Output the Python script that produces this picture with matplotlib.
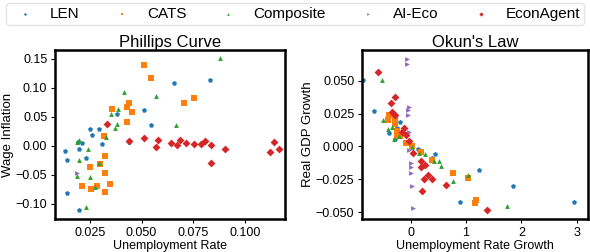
import matplotlib
matplotlib.use("Agg")
import matplotlib.pyplot as plt

plt.rcParams['font.family'] = ['Liberation Sans', 'DejaVu Sans']

# Phillips curve: (unemployment rate, wage inflation)
len_ph_x = [0.013, 0.014, 0.014, 0.0195, 0.0197, 0.0197, 0.021, 0.023, 0.0253, 0.026,
            0.0295, 0.031, 0.038, 0.044, 0.0513, 0.0547, 0.0658, 0.0828]
len_ph_y = [-0.009, -0.025, -0.082, 0.007, -0.006, -0.111, 0.005, -0.021, 0.030, 0.019,
            0.030, 0.003, 0.055, 0.007, 0.062, 0.036, 0.108, 0.114]
cats_ph_x = [0.0513, 0.0543, 0.0438, 0.0428, 0.0358, 0.0453, 0.0428, 0.0705, 0.0755, 0.0318,
             0.0323, 0.0253, 0.0297, 0.0323, 0.0213, 0.0283, 0.0258, 0.0348, 0.0323]
cats_ph_y = [0.140, 0.117, 0.074, 0.067, 0.063, 0.059, 0.041, 0.074, 0.083, 0.018,
             -0.017, -0.037, -0.031, -0.047, -0.069, -0.069, -0.074, -0.066, -0.080]
comp_ph_x = [0.0877, 0.0415, 0.0568, 0.0387, 0.035, 0.0335, 0.0382, 0.0373, 0.0665, 0.0197,
             0.019, 0.0243, 0.0197, 0.0295, 0.019, 0.0253, 0.0273, 0.023, 0.033]
comp_ph_y = [0.152, 0.093, 0.087, 0.064, 0.055, 0.040, 0.038, 0.031, 0.036, 0.011,
             0.006, -0.005, -0.025, -0.029, -0.051, -0.053, -0.071, -0.106, 0.016]
aieco_ph_x = [0.0187]
aieco_ph_y = [-0.047]
econ_ph_x = [0.0335, 0.044, 0.0512, 0.0577, 0.057, 0.0643, 0.0673, 0.0685, 0.0715, 0.0755,
             0.0787, 0.0805, 0.0837, 0.0837, 0.0902, 0.1122, 0.1137, 0.1163]
econ_ph_y = [0.037, 0.009, 0.013, 0.011, -0.001, 0.005, 0.001, 0.011, 0.005, 0.003,
             0.003, 0.008, 0.001, -0.029, -0.006, -0.010, 0.006, -0.006]

# Okun's law: (unemployment rate growth, real GDP growth)
len_ok_x = [-0.864, -0.651, -0.396, -0.195, -0.243, -0.272, 0.142, 0.39, 0.444, 1.237,
            0.888, 1.846, 2.94]
len_ok_y = [0.051, 0.027, 0.010, 0.019, 0.014, 0.0056, -0.0023, -0.0088, -0.006, -0.018,
            -0.042, -0.030, -0.042]
cats_ok_x = [-0.408, -0.385, -0.272, -0.272, -0.243, -0.237, -0.189, -0.083, 0.024, 0.195,
             0.385, 0.757, 1.041, 1.183, 1.166]
cats_ok_y = [0.020, 0.024, 0.022, 0.017, 0.012, 0.008, 0.0076, 0.0025, 0.0, -0.0043,
             -0.0106, -0.0205, -0.0237, -0.041, -0.043]
comp_ok_x = [-0.521, -0.491, -0.402, -0.343, -0.296, -0.207, 0.154, 0.266, 0.432, 0.509,
             0.55, 1.041, 0.763, 1.74, 0.024]
comp_ok_y = [0.051, 0.020, 0.013, 0.015, 0.0058, 0.008, -0.005, -0.006, -0.011, -0.011,
             -0.0146, -0.0215, -0.0265, -0.0455, -0.0005]
aieco_ok_x = [-0.071, -0.071, -0.036, -0.047, -0.041, -0.024, -0.030, 0.006, 0.0, 0.0,
              0.018, 0.053]
aieco_ok_y = [0.067, 0.063, 0.030, 0.028, 0.024, 0.011, -0.003, -0.0126, -0.016, -0.020,
              -0.030, -0.047]
econ_ok_x = [-0.586, -0.355, -0.272, -0.343, -0.284, -0.118, -0.154, -0.089, -0.036, 0.041,
             0.195, 0.195, 0.26, 0.308, 0.249, 0.396, 0.207, 0.639, 1.373]
econ_ok_y = [0.057, 0.033, 0.038, 0.026, 0.024, 0.014, 0.011, 0.009, 0.004, -0.005,
             -0.011, -0.016, -0.0144, -0.0217, -0.025, -0.025, -0.034, -0.0295, -0.0487]

labels = ["LEN", "CATS", "Composite", "AI-Eco", "EconAgent"]
colors = ["#1f77b4", "#ff7f0e", "#2ca02c", "#9467bd", "#d62728"]
markers = ["p", "s", "^", ">", "D"]
sizes = [14, 14, 12, 12, 16]

phillips = [(len_ph_x, len_ph_y), (cats_ph_x, cats_ph_y), (comp_ph_x, comp_ph_y),
            (aieco_ph_x, aieco_ph_y), (econ_ph_x, econ_ph_y)]
okun = [(len_ok_x, len_ok_y), (cats_ok_x, cats_ok_y), (comp_ok_x, comp_ok_y),
        (aieco_ok_x, aieco_ok_y), (econ_ok_x, econ_ok_y)]

fig = plt.figure(figsize=(5.9, 2.52), dpi=100)
ax1 = fig.add_axes([55 / 590, 1 - 219 / 252, 230 / 590, 169 / 252])
ax2 = fig.add_axes([362 / 590, 1 - 219 / 252, 226 / 590, 169 / 252])

handles = []
for (x, y), lab, c, m, s in zip(phillips, labels, colors, markers, sizes):
    h = ax1.scatter(x, y, s=s, c=c, marker=m, label=lab, linewidths=0)
    handles.append(h)
for (x, y), c, m, s in zip(okun, colors, markers, sizes):
    ax2.scatter(x, y, s=s, c=c, marker=m, linewidths=0)

ax1.set_xlim(0.0082, 0.1192)
ax1.set_ylim(-0.126, 0.1655)
ax1.set_xticks([0.025, 0.050, 0.075, 0.100])
ax1.set_xticklabels(["0.025", "0.050", "0.075", "0.100"])
ax1.set_yticks([-0.10, -0.05, 0.0, 0.05, 0.10, 0.15])
ax1.set_yticklabels(["\u22120.10", "\u22120.05", "0.00", "0.05", "0.10", "0.15"])
ax1.set_title("Phillips Curve", fontsize=12, pad=2)
ax1.set_xlabel("Unemployment Rate", fontsize=9, labelpad=1)
ax1.set_ylabel("Wage Inflation", fontsize=9.5, labelpad=1)

ax2.set_xlim(-0.875, 3.2)
ax2.set_ylim(-0.0553, 0.0735)
ax2.set_xticks([0, 1, 2, 3])
ax2.set_yticks([-0.050, -0.025, 0.0, 0.025, 0.050])
ax2.set_yticklabels(["\u22120.050", "\u22120.025", "0.000", "0.025", "0.050"])
ax2.set_title("Okun's Law", fontsize=12, pad=2)
ax2.set_xlabel("Unemployment Rate Growth", fontsize=9, labelpad=1)
ax2.set_ylabel("Real GDP Growth", fontsize=9.5, labelpad=1)

for ax in (ax1, ax2):
    ax.tick_params(labelsize=9, length=3, width=0.8, pad=2.5)
    for sp in ax.spines.values():
        sp.set_linewidth(1.8)
        sp.set_color("black")

fig.legend(handles=handles, labels=labels, loc="upper center", ncol=5,
           bbox_to_anchor=(0.5, 1.0), fontsize=11, markerscale=0.55,
           handlelength=2.0, handletextpad=0.65, columnspacing=1.75,
           borderpad=0.25, borderaxespad=0.2,
           frameon=True, edgecolor="#dddddd", fancybox=True)

fig.savefig("out.png", dpi=100)
